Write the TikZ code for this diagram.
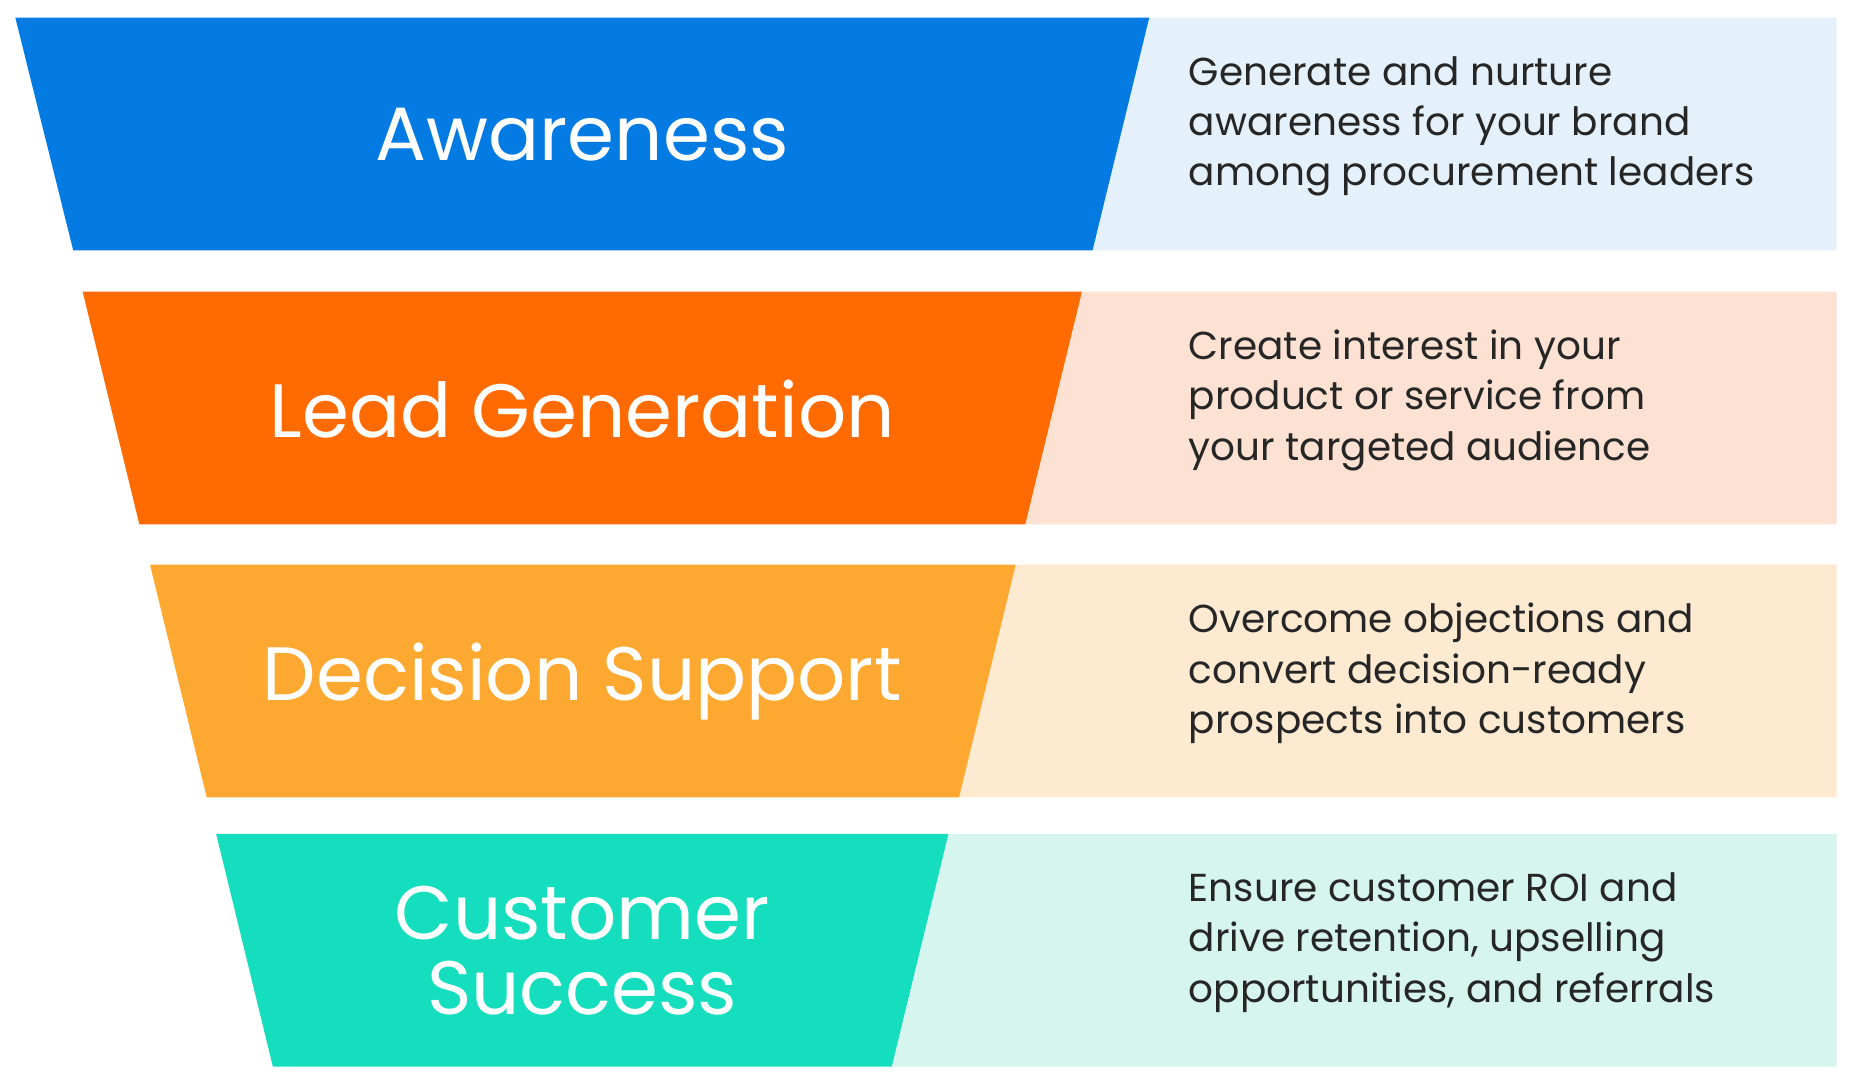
\documentclass[tikz,border=0pt]{standalone}
\usepackage{fontspec}
\setmainfont{Poppins}
\definecolor{c1}{HTML}{037BE3}\definecolor{l1}{HTML}{E4F1FB}
\definecolor{c2}{HTML}{FF6B00}\definecolor{l2}{HTML}{FDE1D3}
\definecolor{c3}{HTML}{FDA830}\definecolor{l3}{HTML}{FEE9D1}
\definecolor{c4}{HTML}{15DEBF}\definecolor{l4}{HTML}{D6F5EE}
\tikzset{title/.style={text=white,font=\fontsize{64}{72}\selectfont,align=center},
desc/.style={text=black!85,font=\fontsize{33}{42.5}\selectfont,align=left,anchor=west}}
\begin{document}
\begin{tikzpicture}[x=1pt,y=-1pt]
\useasboundingbox[fill=white] (0,0) rectangle (1568,916);
\foreach \i/\t/\tl/\tr/\bl/\br/\ttl/\dd in {
1/15/13/973/62/925/Awareness/{Generate and nurture\\awareness for your brand\\among procurement leaders},
2/247/70/916/118/868/Lead Generation/{Create interest in your\\product or service from\\your targeted audience},
3/478/127/860/175/812/Decision Support/{Overcome objections and\\convert decision-ready\\prospects into customers},
4/706/183/803/231/755/{Customer\\[-8pt]Success}/{Ensure customer ROI and\\drive retention, upselling\\opportunities, and referrals}}{
 \fill[l\i] (\tr,\t) -- (1555,\t) -- (1555,\t+197) -- (\br,\t+197) -- cycle;
 \fill[c\i] (\tl,\t) -- (\tr,\t) -- (\br,\t+197) -- (\bl,\t+197) -- cycle;
 \node[title] (t\i) at (493,\t+99) {\ttl};
 \node[desc] (d\i) at (1003,\t+92) {\dd};
}
\end{tikzpicture}
\end{document}
